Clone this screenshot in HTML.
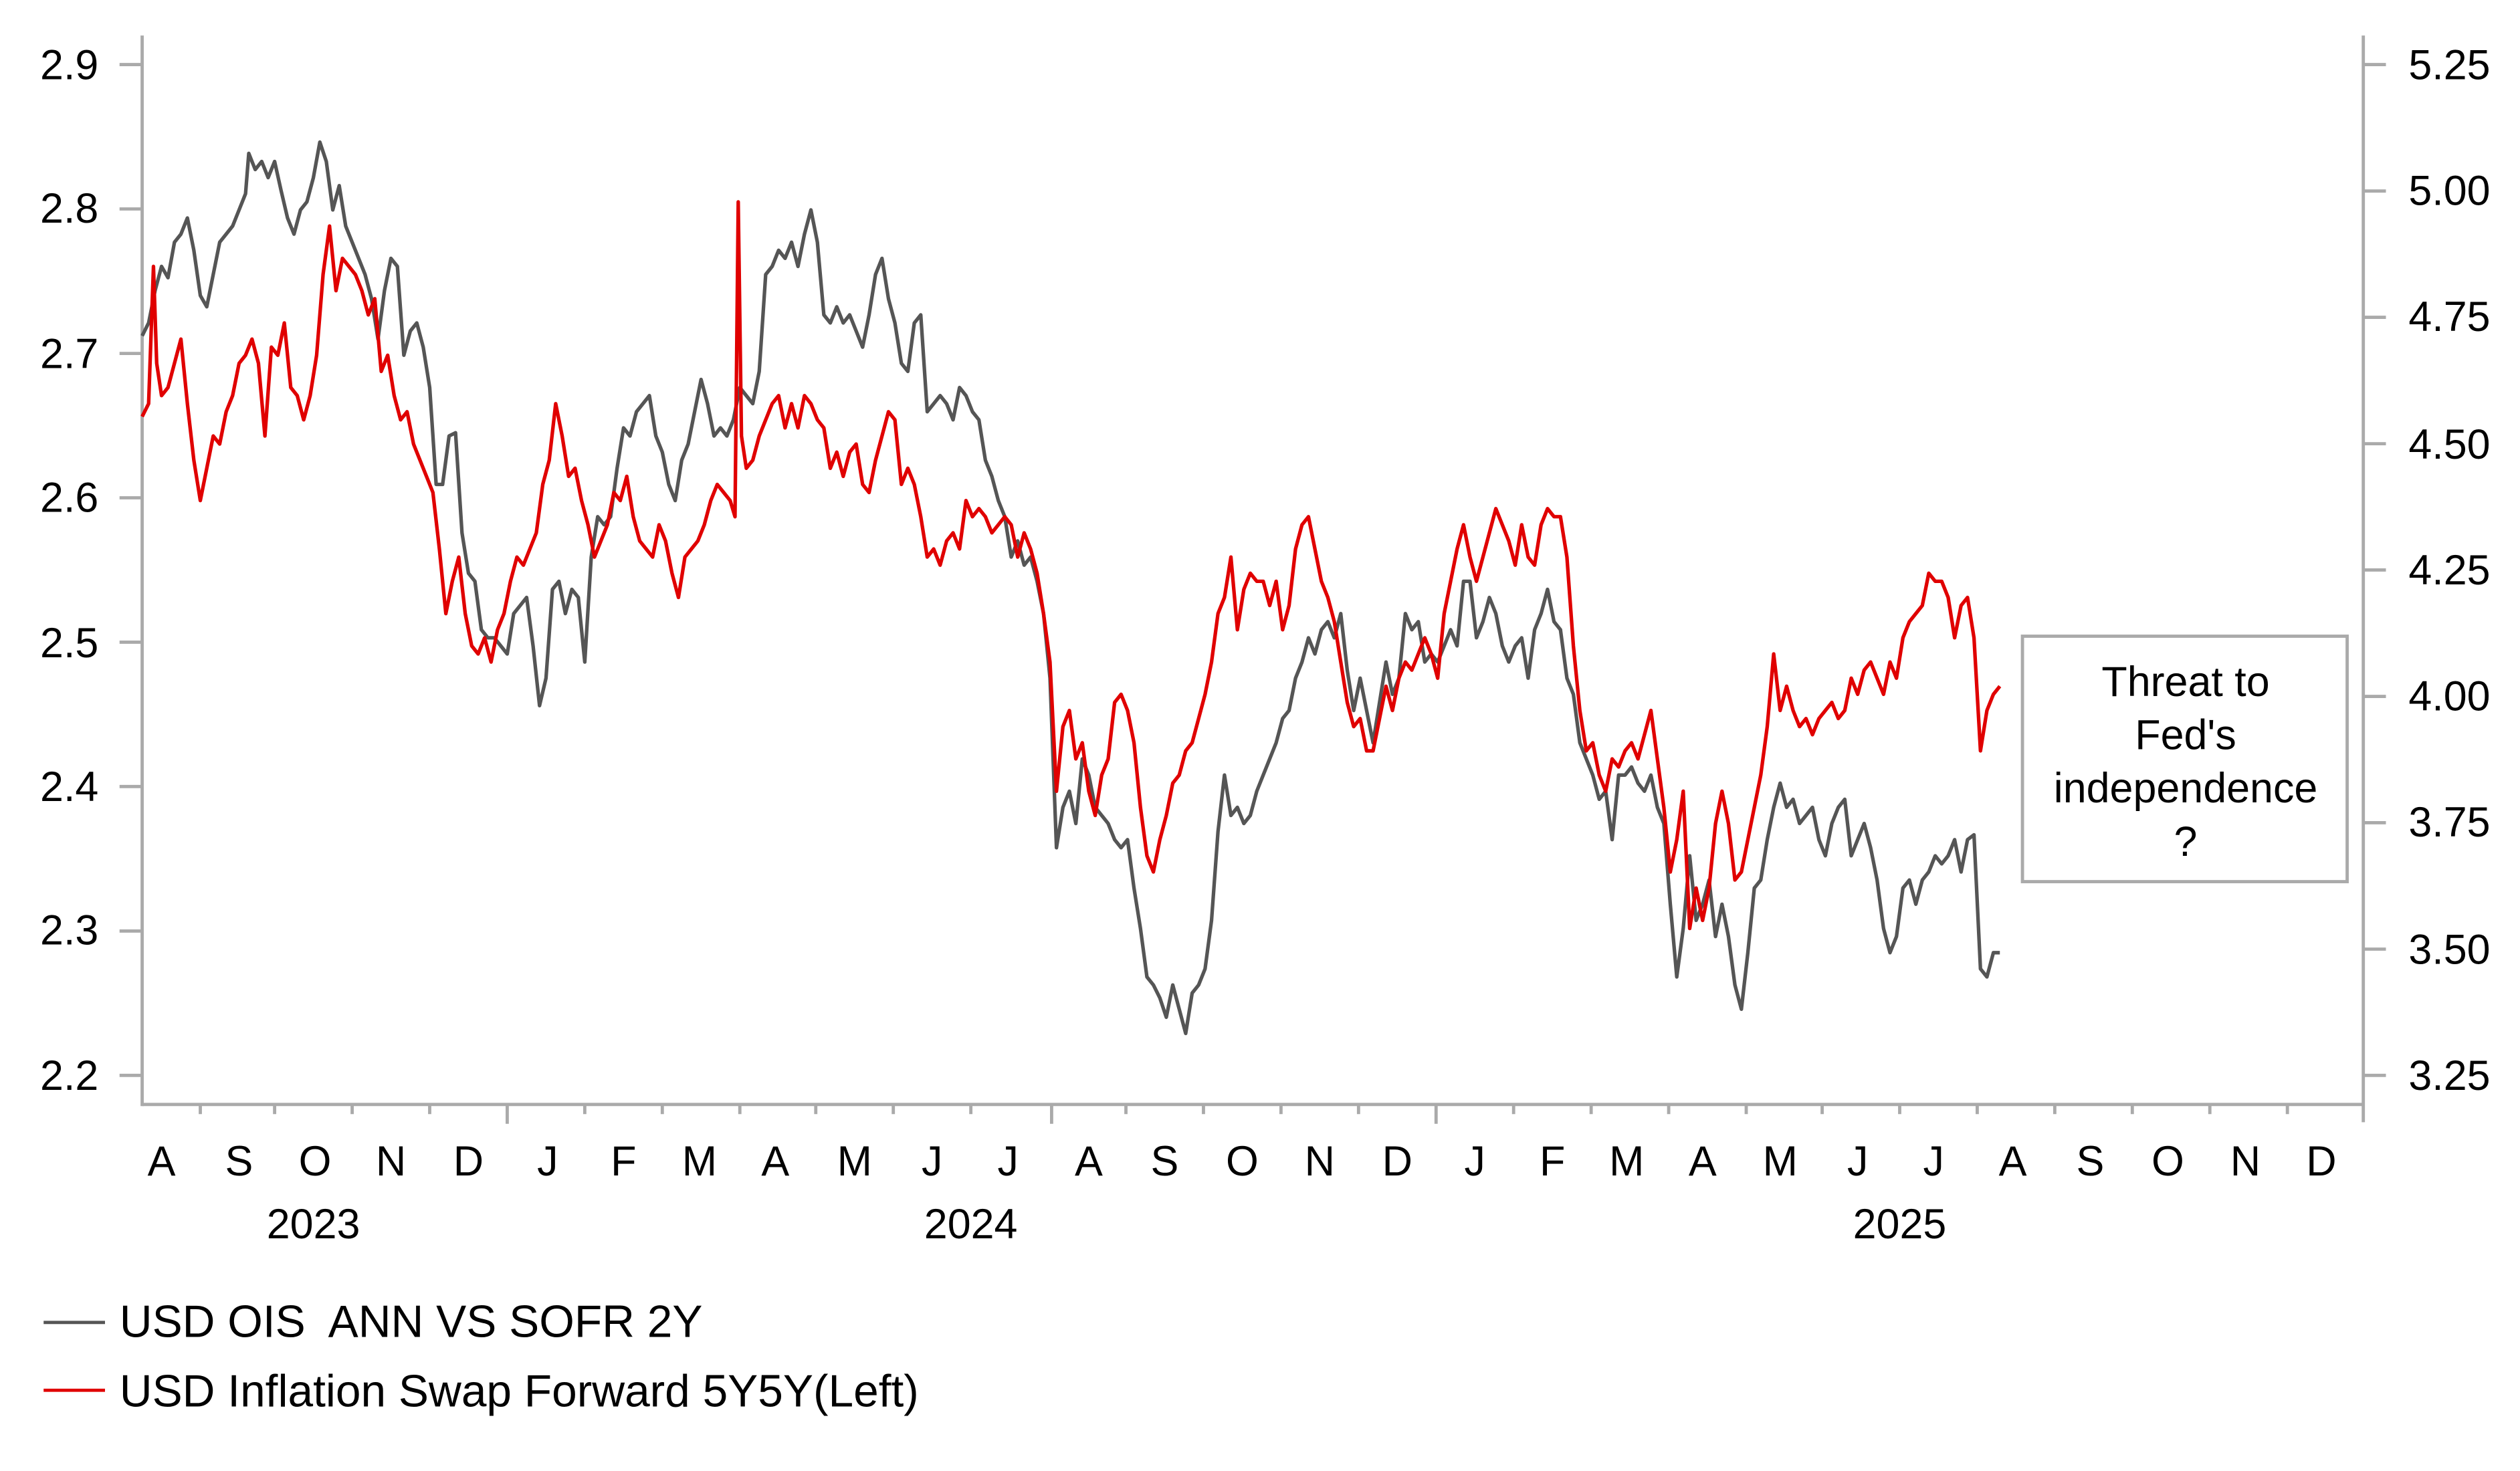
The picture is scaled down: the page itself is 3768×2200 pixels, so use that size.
<!DOCTYPE html>
<html><head><meta charset="utf-8"><style>
html,body{margin:0;padding:0;background:#fff;}
svg{display:block;}
text{font-family:"Liberation Sans",Arial,sans-serif;fill:#000;}
</style></head><body>
<svg width="3768" height="2200" viewBox="0 0 1560 911" preserveAspectRatio="none" xmlns="http://www.w3.org/2000/svg">
<g stroke="#aaa" stroke-width="2" fill="none">
<line x1="88" y1="22" x2="88" y2="685"/>
<line x1="1463" y1="22" x2="1463" y2="695"/>
<line x1="88" y1="684" x2="1463" y2="684"/>
<path d="M74 40H88M74 129.4H88M74 218.9H88M74 308.3H88M74 397.7H88M74 487.1H88M74 576.6H88M74 666H88"/>
<path d="M1463 40H1477M1463 118.3H1477M1463 196.5H1477M1463 274.8H1477M1463 353H1477M1463 431.3H1477M1463 509.5H1477M1463 587.8H1477M1463 666H1477"/>
<path d="M124 684v6M170 684v6M218 684v6M266 684v6M314 684v12M362 684v6M410 684v6M458 684v6M505 684v6M553 684v6M601 684v6M651 684v12M697 684v6M745 684v6M793 684v6M841 684v6M889 684v12M937 684v6M985 684v6M1033 684v6M1081 684v6M1128 684v6M1176 684v6M1224 684v6M1272 684v6M1320 684v6M1368 684v6M1416 684v6"/>
</g>
<g font-size="26" text-anchor="end">
<text x="61" y="49">2.9</text><text x="61" y="138">2.8</text><text x="61" y="228">2.7</text><text x="61" y="317">2.6</text><text x="61" y="407">2.5</text><text x="61" y="496">2.4</text><text x="61" y="585">2.3</text><text x="61" y="675">2.2</text>
</g>
<g font-size="26" text-anchor="start">
<text x="1491" y="49">5.25</text><text x="1491" y="127">5.00</text><text x="1491" y="205">4.75</text><text x="1491" y="284">4.50</text><text x="1491" y="362">4.25</text><text x="1491" y="440">4.00</text><text x="1491" y="518">3.75</text><text x="1491" y="597">3.50</text><text x="1491" y="675">3.25</text>
</g>
<g font-size="26" text-anchor="middle">
<text x="100" y="728">A</text><text x="148" y="728">S</text><text x="195" y="728">O</text><text x="242" y="728">N</text><text x="290" y="728">D</text><text x="339" y="728">J</text><text x="386" y="728">F</text><text x="433" y="728">M</text><text x="480" y="728">A</text><text x="529" y="728">M</text><text x="577" y="728">J</text><text x="624" y="728">J</text><text x="674" y="728">A</text><text x="721" y="728">S</text><text x="769" y="728">O</text><text x="817" y="728">N</text><text x="865" y="728">D</text><text x="913" y="728">J</text><text x="961" y="728">F</text><text x="1007" y="728">M</text><text x="1054" y="728">A</text><text x="1102" y="728">M</text><text x="1150" y="728">J</text><text x="1197" y="728">J</text><text x="1246" y="728">A</text><text x="1294" y="728">S</text><text x="1342" y="728">O</text><text x="1390" y="728">N</text><text x="1437" y="728">D</text>
<text x="194" y="767">2023</text><text x="601" y="767">2024</text><text x="1176" y="767">2025</text>
</g>
<polyline fill="none" stroke="#555" stroke-width="2.2" stroke-linejoin="round" points="88,208 92,200 96,180 100,165 104,172 108,150 112,145 116,135 120,155 124,183 128,190 132,170 136,150 140,145 144,140 148,130 152,120 154,95 158,105 162,100 166,110 170,100 174,118 178,135 182,145 186,130 190,125 194,110 198,88 202,100 206,130 210,115 214,140 218,150 222,160 226,170 230,185 234,210 238,180 242,160 246,165 250,220 254,205 258,200 262,215 266,240 270,300 274,300 278,270 282,268 286,330 290,355 294,360 298,390 302,395 306,395 310,400 314,405 318,380 322,375 326,370 330,400 334,437 338,420 342,365 346,360 350,380 354,365 358,370 362,410 366,345 370,320 374,325 378,320 382,290 386,265 390,270 394,255 398,250 402,245 406,270 410,280 414,300 418,310 422,285 426,275 430,255 434,235 438,250 442,270 446,265 450,270 454,260 458,240 462,245 466,250 470,230 474,170 478,165 482,155 486,160 490,150 494,165 498,145 502,130 506,150 510,195 514,200 518,190 522,200 526,195 530,205 534,215 538,195 542,170 546,160 550,185 554,200 558,225 562,230 566,200 570,195 574,255 578,250 582,245 586,250 590,260 594,240 598,245 602,255 606,260 610,285 614,295 618,310 622,320 626,345 630,335 634,350 638,345 642,360 646,380 650,420 654,525 658,500 662,490 666,510 670,470 674,480 678,500 682,505 686,510 690,520 694,525 698,520 702,550 706,575 710,605 714,610 718,618 722,630 726,610 730,625 734,640 738,615 742,610 746,600 750,570 754,515 758,480 762,505 766,500 770,510 774,505 778,490 782,480 786,470 790,460 794,445 798,440 802,420 806,410 810,395 814,405 818,390 822,385 826,395 830,380 834,415 838,440 842,420 846,440 850,460 854,435 858,410 862,430 866,420 870,380 874,390 878,385 882,410 886,405 890,410 894,400 898,390 902,400 906,360 910,360 914,395 918,385 922,370 926,380 930,400 934,410 938,400 942,395 946,420 950,390 954,380 958,365 962,385 966,390 970,420 974,430 978,460 982,470 986,480 990,495 994,490 998,520 1002,480 1006,480 1010,475 1014,485 1018,490 1022,480 1026,500 1030,510 1034,560 1038,605 1042,575 1046,530 1050,570 1054,560 1058,545 1062,580 1066,560 1070,580 1074,610 1078,625 1082,590 1086,550 1090,545 1094,520 1098,500 1102,485 1106,500 1110,495 1114,510 1118,505 1122,500 1126,520 1130,530 1134,510 1138,500 1142,495 1146,530 1150,520 1154,510 1158,525 1162,545 1166,575 1170,590 1174,580 1178,550 1182,545 1186,560 1190,545 1194,540 1198,530 1202,535 1206,530 1210,520 1214,540 1218,520 1222,517 1226,600 1230,605 1234,590 1238,590"/>
<polyline fill="none" stroke="#e00000" stroke-width="2.2" stroke-linejoin="round" points="88,258 92,250 95,165 97,225 100,245 104,240 108,225 112,210 116,250 120,285 124,310 128,290 132,270 136,275 140,255 144,245 148,225 152,220 156,210 160,225 164,270 168,215 172,220 176,200 180,240 184,245 188,260 192,245 196,220 200,170 204,140 208,180 212,160 216,165 220,170 224,180 228,195 232,185 236,230 240,220 244,245 248,260 252,255 256,275 260,285 264,295 268,305 272,340 276,380 280,360 284,345 288,380 292,400 296,405 300,395 304,410 308,390 312,380 316,360 320,345 324,350 328,340 332,330 336,300 340,285 344,250 348,270 352,295 356,290 360,310 364,325 368,345 372,335 376,325 380,305 384,310 388,295 392,320 396,335 400,340 404,345 408,325 412,335 416,355 420,370 424,345 428,340 432,335 436,325 440,310 444,300 448,305 452,310 455,320 457,125 459,270 462,290 466,285 470,270 474,260 478,250 482,245 486,265 490,250 494,265 498,245 502,250 506,260 510,265 514,290 518,280 522,295 526,280 530,275 534,300 538,305 542,285 546,270 550,255 554,260 558,300 562,290 566,300 570,320 574,345 578,340 582,350 586,335 590,330 594,340 598,310 602,320 606,315 610,320 614,330 618,325 622,320 626,325 630,345 634,330 638,340 642,355 646,380 650,410 654,490 658,450 662,440 666,470 670,460 674,490 678,505 682,480 686,470 690,435 694,430 698,440 702,460 706,500 710,530 714,540 718,520 722,505 726,485 730,480 734,465 738,460 742,445 746,430 750,410 754,380 758,370 762,345 766,390 770,365 774,355 778,360 782,360 786,375 790,360 794,390 798,375 802,340 806,325 810,320 814,340 818,360 822,370 826,385 830,410 834,435 838,450 842,445 846,465 850,465 854,445 858,425 862,440 866,420 870,410 874,415 878,405 882,395 886,405 890,420 894,380 898,360 902,340 906,325 910,345 914,360 918,345 922,330 926,315 930,325 934,335 938,350 942,325 946,345 950,350 954,325 958,315 962,320 966,320 970,345 974,400 978,440 982,465 986,460 990,480 994,490 998,470 1002,475 1006,465 1010,460 1014,470 1018,455 1022,440 1026,470 1030,500 1034,540 1038,520 1042,490 1046,575 1050,550 1054,570 1058,550 1062,510 1066,490 1070,510 1074,545 1078,540 1082,520 1086,500 1090,480 1094,450 1098,405 1102,440 1106,425 1110,440 1114,450 1118,445 1122,455 1126,445 1130,440 1134,435 1138,445 1142,440 1146,420 1150,430 1154,415 1158,410 1162,420 1166,430 1170,410 1174,420 1178,395 1182,385 1186,380 1190,375 1194,355 1198,360 1202,360 1206,370 1210,395 1214,375 1218,370 1222,395 1226,465 1230,440 1234,430 1238,425"/>
<rect x="1252" y="394" width="201" height="152" fill="#fff" stroke="#aaa" stroke-width="2"/>
<g font-size="26" text-anchor="middle">
<text x="1353" y="431">Threat to</text><text x="1353" y="464">Fed's</text><text x="1353" y="497">independence</text><text x="1353" y="530">?</text>
</g>
<line x1="27" y1="819" x2="65" y2="819" stroke="#555" stroke-width="2"/>
<line x1="27" y1="861" x2="65" y2="861" stroke="#e00000" stroke-width="2"/>
<g font-size="28">
<text x="74" y="828">USD OIS&#160; ANN VS SOFR 2Y</text>
<text x="74" y="871">USD Inflation Swap Forward 5Y5Y(Left)</text>
</g>
</svg>
</body></html>
